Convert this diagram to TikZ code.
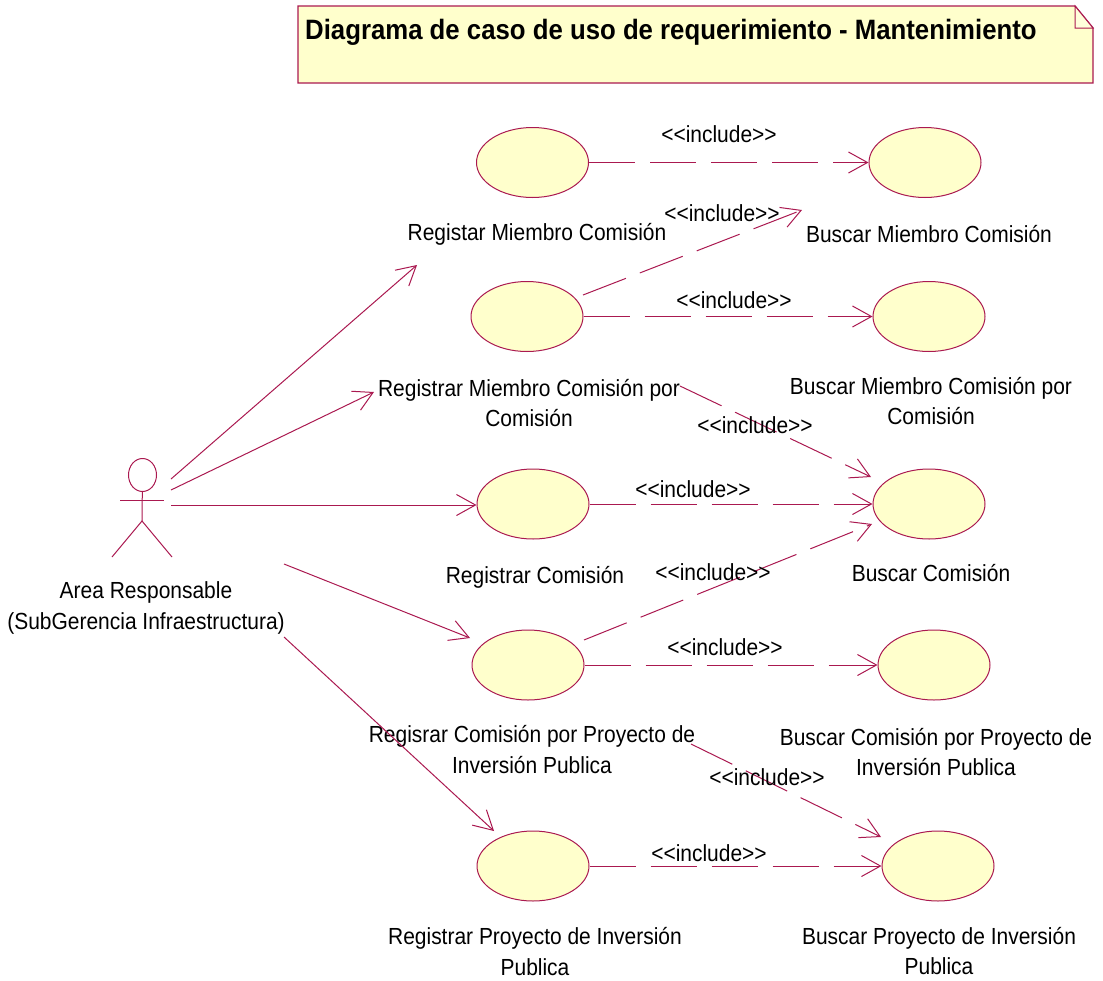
\documentclass[tikz,border=0pt]{standalone}
\usepackage{fontspec}
\setmainfont{Liberation Sans}
\newfontfamily\lblfont[FakeStretch=0.9]{Liberation Sans}
\newfontfamily\ttlfont[FakeStretch=0.92]{Liberation Sans Bold}
\usetikzlibrary{arrows.meta,shapes.geometric}
\definecolor{umlline}{RGB}{170,25,80}
\definecolor{umlfill}{RGB}{255,255,204}
\tikzset{
  usecase/.style={draw=umlline,fill=umlfill,line width=1pt,shape=ellipse,minimum width=112pt,minimum height=70pt,inner sep=0pt},
  lbl/.style={font=\fontsize{23.3}{30.5}\lblfont\selectfont,text=black,align=center,inner sep=0pt},
  assoc/.style={draw=umlline,line width=1pt,-{Straight Barb[length=19pt,width=21pt,line width=1pt]}},
  incl/.style={assoc,dash pattern=on 46pt off 15pt},
  actorline/.style={draw=umlline,line width=1pt},
}
\begin{document}
\begin{tikzpicture}[x=1pt,y=-1pt]
\useasboundingbox (0,0) rectangle (1103,980);
% note
\path[draw=umlline,fill=umlfill,line width=1.4pt] (298,6) -- (1075,6) -- (1093,28) -- (1093,83) -- (298,83) -- cycle;
\path[draw=umlline,fill=umlfill!70!white,line width=1pt] (1075,6) -- (1075,28) -- (1093,28) -- cycle;
\node[anchor=base west,inner sep=0pt,font=\fontsize{28}{30}\ttlfont\selectfont] (title) at (305,39) {Diagrama de caso de uso de requerimiento - Mantenimiento};
% actor
\node[draw=umlline,line width=1pt,shape=ellipse,minimum width=28pt,minimum height=33pt,inner sep=0pt] (head) at (142.5,475) {};
\coordinate (armL) at (120,500);
\coordinate (armR) at (164,500);
\coordinate (hip) at (142,521);
\coordinate (legL) at (112,557);
\coordinate (legR) at (172,557);
\draw[actorline] (armL) -- (armR);
\draw[actorline] (head) -- (hip);
\draw[actorline] (legL) -- (hip) -- (legR);
% use cases
\node[usecase] (E1) at (532.5,162.5) {};
\node[usecase] (E2) at (527,316.5) {};
\node[usecase] (E3) at (533,504) {};
\node[usecase] (E4) at (528,665) {};
\node[usecase] (E5) at (533,866) {};
\node[usecase] (R1) at (925,162.5) {};
\node[usecase] (R2) at (929,316.5) {};
\node[usecase] (R3) at (929,504) {};
\node[usecase] (R4) at (934,665) {};
\node[usecase] (R5) at (938,866) {};
% labels
\node[lbl] (tE1) at (537,234) {Registar Miembro Comisión};
\node[lbl] (tE2) at (529,403) {Registrar Miembro Comisión por\\Comisión};
\node[lbl] (tE3) at (535,577) {Registrar Comisión};
\node[lbl] (tE4) at (532,749.5) {Regisrar Comisión por Proyecto de\\Inversión Publica};
\node[lbl] (tE5) at (535,951.5) {Registrar Proyecto de Inversión\\Publica};
\node[lbl] (tR1) at (929,234) {Buscar Miembro Comisión};
\node[lbl] (tR2) at (931,401) {Buscar Miembro Comisión por\\Comisión};
\node[lbl] (tR3) at (931,573) {Buscar Comisión};
\node[lbl] (tR4) at (936,752) {Buscar Comisión por Proyecto de\\Inversión Publica};
\node[lbl] (tR5) at (939,951) {Buscar Proyecto de Inversión\\Publica};
\node[lbl] (tA) at (146,608) {Area Responsable\\(SubGerencia Infraestructura)};
% free ends
\coordinate (a1s) at (171,479); \coordinate (a1e) at (417,265);
\coordinate (a2s) at (171,490); \coordinate (a2e) at (374,392);
\coordinate (a3s) at (171,505);
\coordinate (a4s) at (284,564); \coordinate (a4e) at (470,638);
\coordinate (a5s) at (284,637); \coordinate (a5e) at (494,831);
\coordinate (i2s) at (583,295); \coordinate (i2e) at (802,210);
\coordinate (i4s) at (680,386); \coordinate (i4e) at (871,477);
\coordinate (i6s) at (584,640); \coordinate (i6e) at (872,524);
\coordinate (i8s) at (691,744); \coordinate (i8e) at (881,837);
% associations
\draw[assoc] (a1s) -- (a1e);
\draw[assoc] (a2s) -- (a2e);
\draw[assoc] (a3s) -- (a3s -| E3.west);
\draw[assoc] (a4s) -- (a4e);
\draw[assoc] (a5s) -- (a5e);
% includes
\draw[incl] (E1) -- (R1);
\draw[incl] (i2s) -- (i2e);
\draw[incl] (E2) -- (R2);
\draw[incl] (i4s) -- (i4e);
\draw[incl] (E3) -- (R3);
\draw[incl] (i6s) -- (i6e);
\draw[incl] (E4) -- (R4);
\draw[incl] (i8s) -- (i8e);
\draw[incl] (E5) -- (R5);
% include labels
\node[lbl] (n1) at (719,134) {<{}<include>{}>};
\node[lbl] (n2) at (722,213) {<{}<include>{}>};
\node[lbl] (n3) at (734,300) {<{}<include>{}>};
\node[lbl] (n4) at (755,425) {<{}<include>{}>};
\node[lbl] (n5) at (693,489) {<{}<include>{}>};
\node[lbl] (n6) at (713,572) {<{}<include>{}>};
\node[lbl] (n7) at (725,647) {<{}<include>{}>};
\node[lbl] (n8) at (767,777) {<{}<include>{}>};
\node[lbl] (n9) at (709,853) {<{}<include>{}>};
\end{tikzpicture}
\end{document}
